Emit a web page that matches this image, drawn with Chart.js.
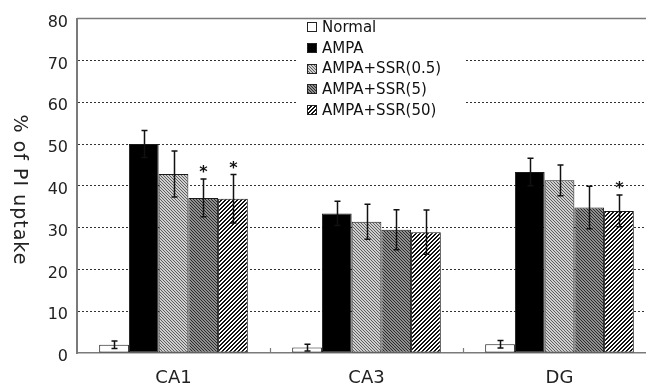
<!DOCTYPE html>
<html>
<head>
<meta charset="utf-8">
<script src="https://cdn.jsdelivr.net/npm/chart.js@4.4.0/dist/chart.umd.min.js"></script>
<style>
  html, body { margin: 0; padding: 0; overflow: hidden; background: #fff; }
  #wrap { width: 660px; height: 388px; }
</style>
</head>
<body>
<div id="wrap"><canvas id="barChart"></canvas></div>
<script>
// regions on the x axis, one group of bars each
var regions = ["CA1", "CA3", "DG"]
var groupNames = ["Normal", "AMPA", "AMPA+SSR(0.5)", "AMPA+SSR(5)", "AMPA+SSR(50)"]

// % of PI uptake (mean) and error (SEM)
var normal = [2.0, 1.3, 2.1]
var normalErr = [0.9, 0.8, 0.9]
var ampa = [50.0, 33.4, 43.3]
var ampaErr = [3.2, 2.9, 3.3]
var ssr05 = [42.8, 31.4, 41.3]
var ssr05Err = [5.5, 4.2, 3.7]
var ssr5 = [37.1, 29.5, 34.8]
var ssr5Err = [4.5, 4.8, 5.1]
var ssr50 = [36.9, 28.9, 34.0]
var ssr50Err = [5.8, 5.3, 3.8]

// significance marks (*)
var ssr5Star = [true, false, false]
var ssr50Star = [true, false, true]

var yMin = 0, yMax = 80, yStep = 10

var FONT = "'DejaVu Sans', sans-serif"

// small pixel tiles for the hatched fills
function hatch(size, dark, light, isDark) {
  var c = document.createElement('canvas')
  c.width = size; c.height = size
  var g = c.getContext('2d')
  for (var x = 0; x < size; x++) {
    for (var y = 0; y < size; y++) {
      g.fillStyle = isDark(x, y, size) ? dark : light
      g.fillRect(x, y, 1, 1)
    }
  }
  return g.createPattern(c, 'repeat')
}
var fineLight = hatch(3, '#5e5e5e', '#cfcfcf', function(x, y, n) { return (x - y + n) % n == 0 })
var fineDark = hatch(3, '#2a2a2a', '#8e8e8e', function(x, y, n) { return (x - y + n) % n == 0 })
var wideStripe = hatch(4, '#111111', '#ffffff', function(x, y, n) { return (x + y) % n < 2 })

var fills = ['#ffffff', '#000000', fineLight, fineDark, wideStripe]
var values = [normal, ampa, ssr05, ssr5, ssr50]
var errors = [normalErr, ampaErr, ssr05Err, ssr5Err, ssr50Err]
var stars = [null, null, null, ssr5Star, ssr50Star]

var datasets = groupNames.map(function(name, i) {
  return {
    label: name,
    data: values[i],
    err: errors[i],
    stars: stars[i],
    backgroundColor: fills[i],
    borderColor: '#1a1a1a',
    borderWidth: 1,
    borderSkipped: false,
    barPercentage: 1.0,
    categoryPercentage: 0.77
  }
})

// error bars + stars
var errorBars = {
  id: 'errorBars',
  afterDatasetsDraw: function(chart) {
    var ctx = chart.ctx, y = chart.scales.y
    ctx.save()
    ctx.strokeStyle = '#111'
    ctx.lineWidth = 1.5
    chart.data.datasets.forEach(function(ds, i) {
      var meta = chart.getDatasetMeta(i)
      meta.data.forEach(function(bar, j) {
        var top = y.getPixelForValue(ds.data[j] + ds.err[j])
        var bot = y.getPixelForValue(ds.data[j] - ds.err[j])
        var x = Math.round(bar.x) + 0.5
        ctx.beginPath()
        ctx.moveTo(x, bot); ctx.lineTo(x, top)
        ctx.moveTo(x - 3, top); ctx.lineTo(x + 3, top)
        ctx.moveTo(x - 3, bot); ctx.lineTo(x + 3, bot)
        ctx.stroke()
        if (ds.stars && ds.stars[j]) {
          ctx.fillStyle = '#111'
          ctx.font = 'bold 16px ' + FONT
          ctx.textAlign = 'center'
          ctx.textBaseline = 'alphabetic'
          ctx.fillText('*', x, top - 2)
        }
      })
    })
    ctx.restore()
  }
}

// legend box sitting inside the plot, plus frame bits
var boxLegend = {
  id: 'boxLegend',
  beforeDatasetsDraw: function(chart) {
    var ctx = chart.ctx, area = chart.chartArea
    ctx.save()
    ctx.fillStyle = '#fff'
    ctx.fillRect(296, area.top + 1, 169, 110)
    ctx.font = '15px ' + FONT
    ctx.textAlign = 'left'
    ctx.textBaseline = 'middle'
    chart.data.datasets.forEach(function(ds, i) {
      var cy = 27 + i * 20.8
      ctx.fillStyle = ds.backgroundColor
      ctx.fillRect(307, Math.round(cy - 5), 10, 10)
      ctx.strokeStyle = '#222'
      ctx.lineWidth = 1
      ctx.strokeRect(307.5, Math.round(cy - 5) + 0.5, 9, 9)
      ctx.fillStyle = '#111'
      ctx.fillText(ds.label, 322, cy + 1)
    })
    ctx.restore()
  },
  afterDraw: function(chart) {
    var ctx = chart.ctx, area = chart.chartArea, x = chart.scales.x
    ctx.save()
    // top frame line
    ctx.strokeStyle = '#7a7a7a'
    ctx.lineWidth = 1.5
    ctx.beginPath()
    ctx.moveTo(area.left, area.top); ctx.lineTo(area.right, area.top)
    ctx.stroke()
    // small inward ticks between regions
    var w = x.getPixelForValue(1) - x.getPixelForValue(0)
    ctx.lineWidth = 1.2
    for (var k = 1; k < regions.length; k++) {
      var px = Math.round(x.getPixelForValue(k) - w / 2) + 0.5
      ctx.beginPath()
      ctx.moveTo(px, area.bottom); ctx.lineTo(px, area.bottom - 5)
      ctx.stroke()
    }
    // y axis title, rotated clockwise
    ctx.translate(19, 190)
    ctx.rotate(Math.PI / 2)
    ctx.fillStyle = '#222'
    ctx.font = '19px ' + FONT
    ctx.letterSpacing = '1px'
    ctx.textAlign = 'center'
    ctx.textBaseline = 'middle'
    ctx.fillText('% of PI uptake', 0, 0)
    ctx.restore()
  }
}

var ctxB = document.getElementById('barChart').getContext('2d')
var myBarChart = new Chart(ctxB, {
  type: 'bar',
  data: {
    labels: regions,
    datasets: datasets
  },
  options: {
    responsive: true,
    maintainAspectRatio: false,
    animation: false,
    layout: { padding: { top: 11, right: 4, bottom: 0, left: 0 } },
    plugins: {
      legend: { display: false },
      tooltip: { enabled: false }
    },
    scales: {
      x: {
        afterFit: function(s) { s.height = 35 },
        grid: { display: false, drawTicks: false },
        border: { display: true, color: '#7a7a7a', width: 1.5 },
        ticks: { color: '#222', font: { family: FONT, size: 18 }, padding: 15 }
      },
      y: {
        min: yMin,
        max: yMax,
        afterFit: function(s) { s.width = 77 },
        grid: {
          drawTicks: false,
          color: function(c) {
            return (c.tick && (c.tick.value == yMin || c.tick.value == yMax)) ? 'rgba(0,0,0,0)' : '#333'
          },
          lineWidth: 1
        },
        border: { display: true, color: '#7a7a7a', width: 2, dash: [2, 2] },
        ticks: {
          stepSize: yStep,
          color: '#222',
          padding: 9,
          labelOffset: 4,
          font: { family: FONT, size: 16 }
        }
      }
    }
  },
  plugins: [errorBars, boxLegend]
});
</script>
</body>
</html>
